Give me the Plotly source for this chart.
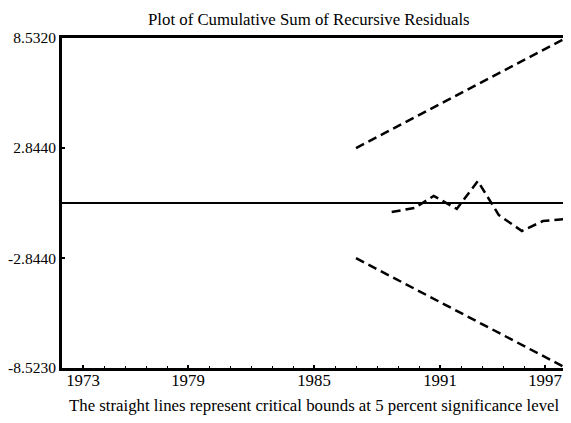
import plotly.graph_objects as go

# Observation positions (index along the time axis; left edge = 0, right edge = 24)
tick_positions = [1, 6, 12, 18, 23]
tick_labels = ["1973", "1979", "1985", "1991", "1997"]

y_tick_values = [8.532, 2.844, -2.844, -8.523]
y_tick_labels = ["8.5320", "2.8440", "-2.8440", "-8.5230"]

# CUSUM of recursive residuals
cusum_x = [15.7, 16.8, 17.7, 18.8, 19.8, 20.8, 21.9, 22.9, 24.0]
cusum_y = [-0.46, -0.25, 0.37, -0.30, 1.14, -0.62, -1.44, -0.93, -0.82]

# 5% critical bounds (straight lines)
bound_x = [14, 24]
upper_bound = [2.844, 8.532]
lower_bound = [-2.844, -8.523]

FONT = "Liberation Serif, Times New Roman, serif"
FS = 16.8
dash_style = "9px,5px"

fig = go.Figure()
fig.add_trace(go.Scatter(x=bound_x, y=upper_bound, mode="lines",
                         line=dict(color="black", width=2.5, dash=dash_style),
                         showlegend=False, hoverinfo="skip"))
fig.add_trace(go.Scatter(x=bound_x, y=lower_bound, mode="lines",
                         line=dict(color="black", width=2.5, dash=dash_style),
                         showlegend=False, hoverinfo="skip"))
fig.add_trace(go.Scatter(x=cusum_x, y=cusum_y, mode="lines",
                         line=dict(color="black", width=2.5, dash=dash_style),
                         showlegend=False))

fig.update_layout(
    width=563, height=415,
    margin=dict(l=54, r=5, t=30, b=55),
    paper_bgcolor="white", plot_bgcolor="white",
    font=dict(family=FONT, size=FS, color="black"),
    showlegend=False,
    xaxis=dict(range=[0, 24], tickmode="array", tickvals=tick_positions,
               ticktext=tick_labels, ticks="inside", ticklen=3, tickwidth=1.5,
               tickcolor="black",
               minor=dict(dtick=1, tick0=0, ticks="inside", ticklen=2,
                          tickwidth=1, tickcolor="black", showgrid=False),
               showgrid=False, zeroline=False, showline=True, mirror=True,
               linecolor="black", linewidth=3, automargin=False,
               tickfont=dict(family=FONT, size=FS), ticklabelstandoff=-5),
    yaxis=dict(range=[-8.523, 8.532], tickmode="array", tickvals=y_tick_values,
               ticktext=y_tick_labels, ticks="inside", ticklen=3, tickwidth=1.5,
               tickcolor="black",
               showgrid=False, zeroline=True, zerolinecolor="black",
               zerolinewidth=2, showline=True, mirror=True,
               linecolor="black", linewidth=3, automargin=False,
               tickfont=dict(family=FONT, size=15.5), ticklabelstandoff=0),
    annotations=[
        dict(text="Plot of Cumulative Sum of Recursive Residuals",
             xref="paper", yref="paper", x=0.49, y=1.0 + 30 / 330,
             xanchor="center", yanchor="top", showarrow=False,
             font=dict(family=FONT, size=FS)),
        dict(text="The straight lines represent critical bounds at 5 percent significance level",
             xref="paper", yref="paper", x=0.5, y=-37 / 330,
             xanchor="center", yanchor="middle", showarrow=False,
             font=dict(family=FONT, size=FS)),
    ],
)

fig.write_html("out.html")
